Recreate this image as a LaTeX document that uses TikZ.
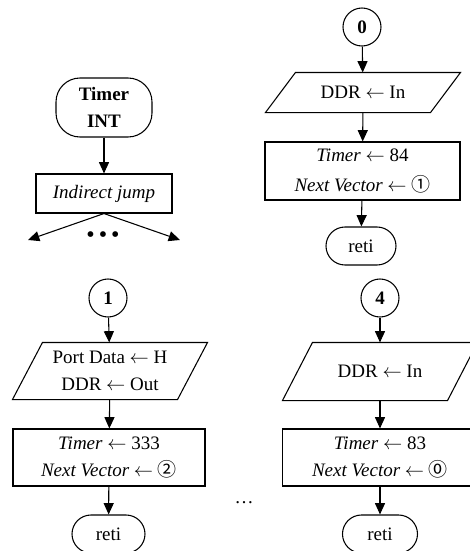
\documentclass[tikz,border=0pt]{standalone}
\usepackage{fontspec}
\setmainfont{Liberation Serif}
\newfontfamily\circd{Noto Sans CJK JP}
\usetikzlibrary{arrows.meta}
\def\pxu{0.75pt}
\tikzset{
  base/.style={draw, line width=0.8pt, inner sep=0pt, align=center,
    font=\fontsize{14.25}{16.5}\selectfont},
  circ/.style={base, circle, minimum size={38*\pxu}, font=\fontsize{14.25}{16.5}\selectfont\bfseries},
  box/.style={base, rectangle, minimum width={#1*\pxu}},
  term/.style={base, rectangle, rounded corners={19*\pxu}, minimum width={#1*\pxu}, minimum height={38*\pxu}},
  para/.style={base, draw=none, rectangle, minimum width={164*\pxu}},
  arr/.style={line width=0.8pt, -{Triangle[width=7.5pt,length=8.5pt]}},
}
\newcommand{\paraoutline}[1]{%
  \draw[line width=0.8pt] ([xshift={15*\pxu}]#1.north west) -- ([xshift={15*\pxu}]#1.north east)
    -- ([xshift={-15*\pxu}]#1.south east) -- ([xshift={-15*\pxu}]#1.south west) -- cycle;}
\begin{document}
\begin{tikzpicture}[x={(0.75pt,0)}, y={(0,-0.75pt)}]
\clip (0,0) rectangle (470,551);
% left top
\node[base, rectangle, rounded corners={24*\pxu}, minimum width={96*\pxu}, minimum height={59*\pxu},
  font=\fontsize{14.25}{20}\selectfont\bfseries] (ti) at (104,107.5) {Timer\\INT};
\node[box=136, minimum height={39*\pxu}, font=\fontsize{14.25}{16.5}\selectfont\itshape] (ij) at (104,193.5) {Indirect jump};
\coordinate (jl) at (28,240);
\coordinate (jr) at (180,240);
\node[inner sep=0pt, font=\fontsize{18}{18}\selectfont] (bd) at (103,237) {•\,•\,•};
\draw[arr] (ti) -- (ij);
\draw[arr] (ij.south) -- (jl);
\draw[arr] (ij.south) -- (jr);
% left bottom
\node[circ] (c1) at (108,298) {1};
\node[para, minimum height={56*\pxu}, font=\fontsize{14.25}{20.5}\selectfont] (p1) at (110,371) {Port Data $\leftarrow$ H\\DDR $\leftarrow$ Out};
\paraoutline{p1}
\node[box=192, minimum height={57*\pxu}, font=\fontsize{14.25}{20.5}\selectfont] (r1) at (109,457.5) {\textit{Timer} $\leftarrow$ 333\\\textit{Next Vector} $\leftarrow$ {\circd ②}};
\node[term=73] (e1) at (108.5,534) {reti};
\draw[arr] (c1) -- (p1);
\draw[arr] (p1) -- (r1);
\draw[arr] (r1) -- (e1);
% right top
\node[circ] (c0) at (362,27) {0};
\node[para, minimum height={39*\pxu}] (p0) at (363,92.5) {DDR $\leftarrow$ In};
\paraoutline{p0}
\node[box=195, minimum height={58*\pxu}, font=\fontsize{14.25}{22}\selectfont] (r0) at (362.5,171) {\textit{Timer} $\leftarrow$ 84\\\textit{Next Vector} $\leftarrow$ {\circd ①}};
\node[term=70] (e0) at (361,246) {reti};
\draw[arr] (c0) -- (p0);
\draw[arr] (p0) -- (r0);
\draw[arr] (r0) -- (e0);
% right bottom
\node[circ] (c4) at (380,298) {4};
\node[para, minimum height={57*\pxu}] (p4) at (380,371.5) {DDR $\leftarrow$ In};
\paraoutline{p4}
\node[box=195, minimum height={57*\pxu}, font=\fontsize{14.25}{20.5}\selectfont] (r4) at (380,457.5) {\textit{Timer} $\leftarrow$ 83\\\textit{Next Vector} $\leftarrow$ {\circd ⓪}};
\node[term=75] (e4) at (380,534) {reti};
\draw[arr] (c4) -- (p4);
\draw[arr] (p4) -- (r4);
\draw[arr] (r4) -- (e4);
% ellipsis
\node[inner sep=0pt, font=\fontsize{14.25}{16.5}\selectfont] (el) at (244,503) {…};
\end{tikzpicture}
\end{document}
